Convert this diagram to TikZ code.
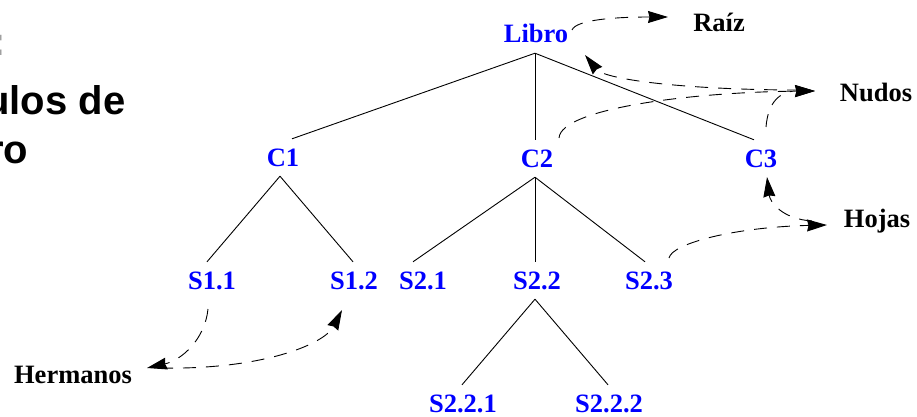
\documentclass[tikz,border=0pt]{standalone}
\usepackage{fontspec}
\setmainfont{Liberation Serif}
\newfontfamily\titlefont{Liberation Sans}
\usetikzlibrary{arrows.meta,calc}
\definecolor{nodeblue}{RGB}{0,0,255}
\definecolor{titlegray}{RGB}{160,160,160}
\begin{document}
\begin{tikzpicture}[x=1pt,y=-1pt,
  lbl/.style={font=\bfseries\fontsize{26.5}{30}\selectfont, inner xsep=0pt, inner ysep=10pt,
     text height=17pt, text depth=0pt, anchor=base},
  treenode/.style={lbl, text=nodeblue},
  tag/.style={lbl, text=black},
  titletext/.style={font=\titlefont\bfseries\fontsize{40}{48}\selectfont, inner sep=0pt, anchor=base east},
  edge/.style={line width=0.9pt},
  pointer/.style={line width=0.9pt, dash pattern=on 13pt off 10pt,
     -{Stealth[length=20pt,width=12pt,inset=1.5pt]}}
]
\useasboundingbox (0,0) rectangle (917,417);

% clipped title at the left edge
\node[titletext, text=titlegray] (t0) at (5.8,56) {:};
\node[titletext] (t1) at (125.5,114) {Capítulos de};
\node[titletext] (t2) at (28.5,163) {un libro};

% tree nodes
\node[treenode] (libro) at (536,43) {Libro};
\node[treenode] (c1) at (283,166) {C1};
\node[treenode] (c2) at (537,167) {C2};
\node[treenode] (c3) at (761,167) {C3};
\node[treenode] (s11) at (212,289) {S1.1};
\node[treenode] (s12) at (354,289) {S1.2};
\node[treenode] (s21) at (423,289) {S2.1};
\node[treenode] (s22) at (537,289) {S2.2};
\node[treenode] (s23) at (649,289) {S2.3};
\node[treenode] (s221) at (463,412) {S2.2.1};
\node[treenode] (s222) at (609,412) {S2.2.2};

% labels
\node[tag] (raiz) at (719,32) {Raíz};
\node[tag] (nudos) at (876,102) {Nudos};
\node[tag] (hojas) at (877,227) {Hojas};
\node[tag] (hermanos) at (73,383) {Hermanos};

% tree edges
\draw[edge] ([xshift=-1pt]libro.south) -- ([xshift=9pt]c1.north);
\draw[edge] ([xshift=-1pt]libro.south) -- ([xshift=-2pt]c2.north);
\draw[edge] ([xshift=-1pt]libro.south) -- ([xshift=-7pt]c3.north);
\draw[edge] ([xshift=-3pt]c1.south) -- ([xshift=-5pt]s11.north);
\draw[edge] ([xshift=-3pt]c1.south) -- ([xshift=-1pt]s12.north);
\draw[edge] ([xshift=-2pt]c2.south) -- ([xshift=-10pt]s21.north);
\draw[edge] ([xshift=-2pt]c2.south) -- ([xshift=-2pt]s22.north);
\draw[edge] ([xshift=-2pt]c2.south) -- ([xshift=-4pt]s23.north);
\draw[edge] ([xshift=-2pt]s22.south) -- ([xshift=-1pt]s221.north);
\draw[edge] ([xshift=-2pt]s22.south) -- ([xshift=-1pt]s222.north);

% dashed pointers
\draw[pointer] ($(libro.center)+(36,-4.5)$) .. controls +(4,-10) and +(-55,0) .. ($(raiz.center)+(-51,-6.5)$);
\draw[pointer] ($(nudos.center)+(-76,-3.5)$) .. controls +(-110,0) and +(20,25) .. ($(libro.center)+(49,20.5)$);
\draw[pointer] ($(c2.center)+(22,-20.5)$) .. controls +(2,-30) and +(-120,1) .. ($(nudos.center)+(-61,-2.5)$);
\draw[pointer] ($(c3.center)+(5,-31.5)$) .. controls +(2,-25) and +(-35,0) .. ($(nudos.center)+(-61,-2.5)$);
\draw[pointer] ($(s23.center)+(20,-22.5)$) .. controls +(3,-15) and +(-90,2) .. ($(hojas.center)+(-50,6.5)$);
\draw[pointer] ($(hojas.center)+(-65,2.5)$) .. controls +(-30,-2) and +(3,25) .. ($(c3.center)+(6,18.5)$);
\draw[pointer] ($(s11.center)+(-4,28.5)$) .. controls +(-3,30) and +(35,-8) .. ($(hermanos.center)+(74,-6.5)$);
\draw[pointer] ($(hermanos.center)+(87,-6.5)$) .. controls +(100,2) and +(-18,35) .. ($(s12.center)+(-12,29.5)$);
\end{tikzpicture}
\end{document}
